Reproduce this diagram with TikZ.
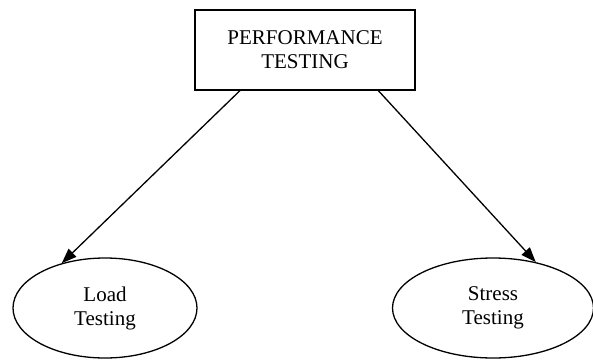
\documentclass[tikz,border=0pt]{standalone}
\usepackage{fontspec}
\setmainfont{Liberation Serif}
\usetikzlibrary{arrows.meta,shapes.geometric}
\tikzset{%
  >={Triangle[width=11pt,length=15pt]},
  % Specifications for style of nodes:
       base/.style = {draw=black, line width=1.3pt, text centered,
                      align=center, font=\fontsize{21}{24}\selectfont},
   topic/.style = {base, rectangle, minimum width=220pt, minimum height=80pt},
    kind/.style = {base, ellipse, minimum height=100pt, inner sep=0pt},
    link/.style = {->, line width=1.3pt}
}

\begin{document}
\begin{tikzpicture}[x=1pt, y=1pt]
  \useasboundingbox (0,0) rectangle (593,-361);

  \node (perf)   [topic]                         at (305,-50)  {PERFORMANCE\\TESTING};
  \node (load)   [kind, minimum width=184pt]     at (105,-308) {Load\\Testing};
  \node (stress) [kind, minimum width=201pt]     at (493,-308) {Stress\\Testing};

    \draw[link] (perf.-148) -- (load.134);
    \draw[link] (perf.-29)  -- (stress.47);
\end{tikzpicture}
\end{document}
